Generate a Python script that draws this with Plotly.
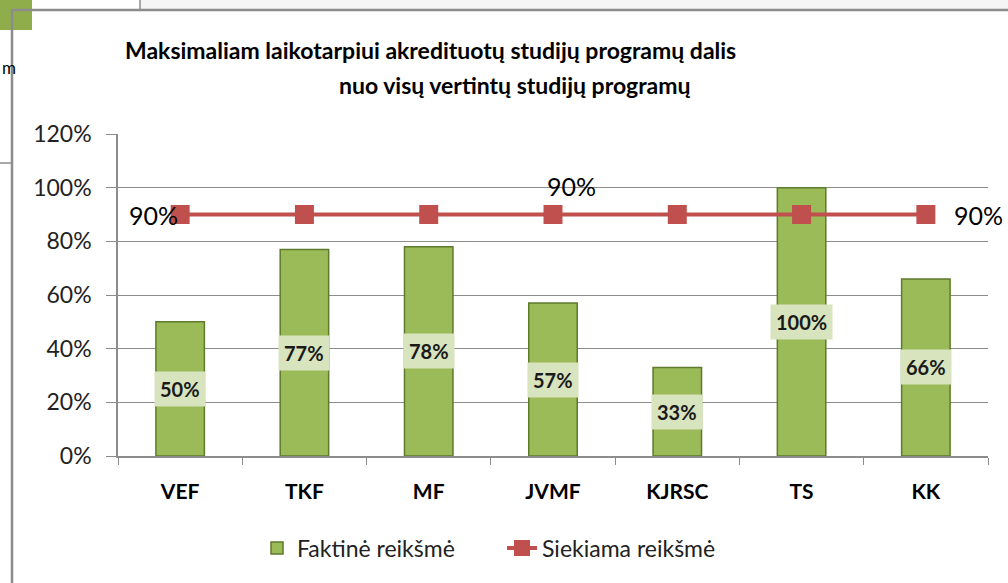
import plotly.graph_objects as go

categories = ["VEF", "TKF", "MF", "JVMF", "KJRSC", "TS", "KK"]
actual = [0.50, 0.77, 0.78, 0.57, 0.33, 1.00, 0.66]
target = [0.90, 0.90, 0.90, 0.90, 0.90, 0.90, 0.90]
actual_labels = ["50%", "77%", "78%", "57%", "33%", "100%", "66%"]
target_label_idx = [0, 3, 6]
title_lines = ["Maksimaliam laikotarpiui akredituotų studijų programų dalis",
               "nuo visų vertintų studijų programų"]
series_names = ["Faktinė reikšmė", "Siekiama reikšmė"]

W, H = 1008, 583
L, R, T, B = 118, 988, 134, 456
def px(xp):
    return (xp - L) / (R - L)
def py(yp):
    return (B - yp) / (B - T)

FONT = "Lato"
fig = go.Figure()
fig.add_trace(go.Bar(
    x=categories, y=actual, name=series_names[0], width=0.39,
    marker=dict(color="#9bbb59", line=dict(color="#5e7a2c", width=1.5)),
))
fig.add_trace(go.Scatter(
    x=categories, y=target, name=series_names[1], mode="lines+markers",
    line=dict(color="#c0504d", width=4),
    marker=dict(symbol="square", size=19, color="#c0504d"),
))

ann = []
for c, v, t in zip(categories, actual, actual_labels):
    ann.append(dict(x=c, y=v / 2, text="<b>%s</b>" % t, showarrow=False,
                    bgcolor="#d7e4bd", font=dict(family=FONT, size=20, color="#1a1a1a"),
                    borderpad=5))
pos = {0: dict(xanchor="right", yanchor="middle", xshift=0),
       3: dict(xanchor="center", yanchor="bottom", yshift=12, xshift=18),
       6: dict(xanchor="left", yanchor="middle", xshift=26)}
for i in target_label_idx:
    a = dict(x=categories[i], y=target[i], text="%d%%" % round(target[i] * 100),
             showarrow=False, font=dict(family=FONT, size=25, color="#000000"))
    a.update(pos[i])
    ann.append(a)

ann.append(dict(xref="paper", yref="paper", x=px(430), y=py(50), text="<b>%s</b>" % title_lines[0],
                showarrow=False, xanchor="center", yanchor="middle",
                font=dict(family=FONT, size=23, color="#000000")))
ann.append(dict(xref="paper", yref="paper", x=px(515), y=py(85), text="<b>%s</b>" % title_lines[1],
                showarrow=False, xanchor="center", yanchor="middle",
                font=dict(family=FONT, size=23, color="#000000")))
ann.append(dict(xref="paper", yref="paper", x=px(0), y=py(68), text="m",
                showarrow=False, xanchor="left", yanchor="middle",
                font=dict(family=FONT, size=17, color="#000000")))

gray = "#8c8c8c"
shapes = [
    dict(type="rect", xref="paper", yref="paper", x0=px(140), x1=px(1010), y0=py(-2), y1=py(10),
         fillcolor="#f5f5f5", line=dict(width=0), layer="below"),
    dict(type="rect", xref="paper", yref="paper", x0=px(-2), x1=px(32), y0=py(-2), y1=py(30),
         fillcolor="#8fae4b", line=dict(width=0)),
    dict(type="line", xref="paper", yref="paper", x0=px(140), x1=px(140), y0=py(-2), y1=py(10),
         line=dict(color=gray, width=1.5)),
    dict(type="line", xref="paper", yref="paper", x0=px(-2), x1=px(12), y0=py(163), y1=py(163),
         line=dict(color=gray, width=1.5)),
    dict(type="line", xref="paper", yref="paper", x0=px(12), x1=px(12), y0=py(585), y1=py(10),
         line=dict(color=gray, width=2.5)),
    dict(type="line", xref="paper", yref="paper", x0=px(11), x1=px(1010), y0=py(10), y1=py(10),
         line=dict(color=gray, width=2.5)),
]

fig.update_layout(
    width=W, height=H,
    margin=dict(l=L, r=W - R, t=T, b=H - B, autoexpand=False),
    paper_bgcolor="white", plot_bgcolor="white",
    showlegend=True,
    legend=dict(orientation="h", x=px(257), y=py(548), xanchor="left", yanchor="middle",
                font=dict(family=FONT, size=23, color="#222222"),
                entrywidth=200, tracegroupgap=0),
    annotations=ann, shapes=shapes,
    font=dict(family=FONT),
)
fig.update_xaxes(
    type="category", range=[-0.5, 6.5], showline=True, linecolor=gray, linewidth=1.5,
    ticks="outside", tickson="boundaries", ticklen=7, tickcolor=gray,
    ticklabelstandoff=16,
    tickfont=dict(family=FONT, size=21, color="#000000"),
    ticktext=["<b>%s</b>" % c for c in categories], tickvals=categories,
    showgrid=False,
)
fig.update_yaxes(
    range=[0, 1.2], dtick=0.2, tickformat=".0%", showline=True, linecolor=gray, linewidth=1.5,
    ticks="outside", ticklen=10, tickcolor=gray, showgrid=True, gridcolor=gray, gridwidth=1,
    ticklabelstandoff=10,
    tickfont=dict(family=FONT, size=23, color="#222222"), zeroline=False,
)
fig.write_html("out.html", post_script="document.body.style.margin='0';",
               config={"displayModeBar": False})
